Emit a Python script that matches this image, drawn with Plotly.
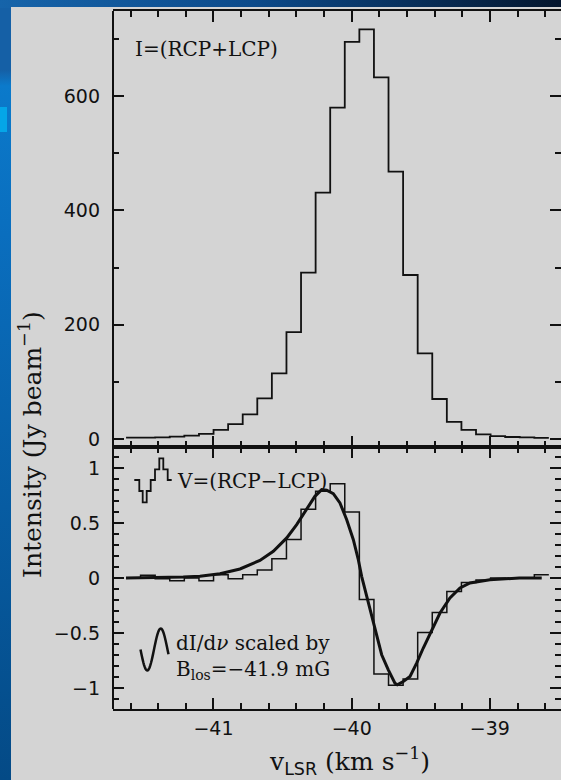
import base64
import math
import plotly.graph_objects as go

# ---------------- data ----------------
chan_v = [-41.580, -41.475, -41.369, -41.264, -41.158, -41.052, -40.947, -40.841,
          -40.736, -40.630, -40.525, -40.419, -40.314, -40.208, -40.103, -39.997,
          -39.892, -39.786, -39.681, -39.575, -39.470, -39.364, -39.259, -39.153,
          -39.048, -38.942, -38.837, -38.731, -38.626]
stokes_I = [2.3, 2.3, 3, 4, 6, 9, 16, 26, 43, 71, 115, 187, 291, 431, 580, 695,
            717, 633, 468, 287, 150, 70, 30, 16, 8, 5, 3.5, 3, 2]
stokes_V = [0, 0.024, -0.006, -0.024, 0, -0.024, 0.03, -0.006, 0.03, 0.073, 0.176,
            0.35, 0.625, 0.787, 0.857, 0.6, -0.195, -0.873, -0.975, -0.918, -0.495,
            -0.313, -0.122, -0.041, -0.018, 0, -0.003, -0.003, 0.03]
fit_v = [-41.633, -41.400, -41.219, -41.098, -40.953, -40.808, -40.664, -40.567,
         -40.470, -40.398, -40.326, -40.266, -40.217, -40.181, -40.133, -40.085,
         -40.036, -39.988, -39.952, -39.928, -39.891, -39.855, -39.819, -39.783,
         -39.735, -39.687, -39.670, -39.627, -39.578, -39.530, -39.482, -39.421,
         -39.361, -39.289, -39.216, -39.144, -39.072, -39.000, -38.787, -38.625]
fit_V = [0, 0.003, 0.009, 0.015, 0.039, 0.082, 0.16, 0.242, 0.364, 0.485, 0.627,
         0.742, 0.803, 0.797, 0.766, 0.682, 0.53, 0.348, 0.166, 0.015, -0.167,
         -0.349, -0.53, -0.697, -0.834, -0.955, -0.97, -0.94, -0.894, -0.773,
         -0.636, -0.47, -0.318, -0.182, -0.091, -0.045, -0.03, -0.015, 0, 0]

x_tickvals = [-41, -40, -39]
x_ticktext = ["\u221241", "\u221240", "\u221239"]
I_tickvals = [0, 200, 400, 600]
I_ticktext = ["0", "200", "400", "600"]
V_tickvals = [-1, -0.5, 0, 0.5, 1]
V_ticktext = ["\u22121", "\u22120.5", "0", "0.5", "1"]

# ---------------- geometry ----------------
W, H = 561, 780
ML, MR, MT, MB = 113, 0, 11, 71
PW, PH = W - ML - MR, H - MT - MB
SPLIT = (709 - 447) / PH
INK = "#111111"


def px(x):
    return (x - ML) / PW


def py(y):
    return (H - MB - y) / PH


def steps(xc, yv):
    w = xc[1] - xc[0]
    return [xc[0] - w / 2] + list(xc) + [xc[-1] + w / 2], [yv[0]] + list(yv) + [yv[-1]]


fig = go.Figure()
xs, ys = steps(chan_v, stokes_I)
fig.add_trace(go.Scatter(x=xs, y=ys, mode="lines", line=dict(shape="hvh", color=INK, width=1.8),
                         xaxis="x", yaxis="y", hoverinfo="skip"))
xs, ys = steps(chan_v, stokes_V)
fig.add_trace(go.Scatter(x=xs, y=ys, mode="lines", line=dict(shape="hvh", color=INK, width=1.5),
                         xaxis="x2", yaxis="y2", hoverinfo="skip"))
fig.add_trace(go.Scatter(x=fit_v, y=fit_V, mode="lines", line=dict(color=INK, width=3),
                         xaxis="x2", yaxis="y2", hoverinfo="skip"))

tickfont = dict(family="DejaVu Sans", size=19, color=INK)
xr = [-41.727, -38.4855]
xcommon = dict(range=xr, showgrid=False, zeroline=False, showline=True, mirror="ticks",
               linecolor=INK, linewidth=2, ticks="inside", ticklen=11, tickwidth=1.5,
               tickcolor=INK, tickvals=x_tickvals, ticktext=x_ticktext,
               minor=dict(tickmode="linear", tick0=-40, dtick=0.2, ticks="inside",
                          ticklen=6, tickwidth=1.5, tickcolor=INK),
               tickfont=tickfont)
ycommon = dict(showgrid=False, zeroline=False, showline=False, mirror="ticks",
               ticks="inside", ticklen=11, tickwidth=1.5, tickcolor=INK,
               tickfont=tickfont, ticklabelstandoff=12)

svg = f'''<svg xmlns="http://www.w3.org/2000/svg" width="{W}" height="{H}" viewBox="0 0 {W} {H}">
<defs>
<linearGradient id="t" x1="0" y1="0" x2="1" y2="0">
<stop offset="0" stop-color="#1664aa"/><stop offset="0.45" stop-color="#0c4a8a"/><stop offset="1" stop-color="#04162e"/>
</linearGradient>
<linearGradient id="l" x1="0" y1="0" x2="0" y2="1">
<stop offset="0" stop-color="#1560a6"/><stop offset="0.09" stop-color="#1560a6"/>
<stop offset="0.11" stop-color="#0b7acb"/><stop offset="0.3" stop-color="#0a6ebe"/>
<stop offset="1" stop-color="#044a86"/>
</linearGradient>
</defs>
<rect x="0" y="0" width="{W}" height="{H}" fill="url(#l)"/>
<rect x="0" y="0" width="{W}" height="8" fill="url(#t)"/>
<rect x="0" y="107" width="7" height="25" fill="#05a6e8"/>
<rect x="11" y="7" width="{W-11}" height="{H-7}" fill="#d4d4d4"/>
</svg>'''
src = "data:image/svg+xml;base64," + base64.b64encode(svg.encode()).decode()

# legend key glyphs (pixel outlines)
step_key = [(134.3, 480), (139.3, 480), (139.3, 491), (142.7, 491), (142.7, 502.3),
            (146.7, 502.3), (146.7, 491), (150.7, 491), (150.7, 480), (155, 480),
            (155, 469.3), (159.3, 469.3), (159.3, 458.3), (163.3, 458.3), (163.3, 469.3),
            (167.7, 469.3), (167.7, 480), (171.7, 480)]
step_path = "M " + " L ".join(f"{px(a):.5f},{py(b):.5f}" for a, b in step_key)
wave_pts = []
for i in range(41):
    xx = 140.5 + 28 * i / 40
    yy = 649.5 + 21 * math.sin(math.pi * (xx - 140.5) / 13.5)
    wave_pts.append((xx, yy))
wave_path = "M " + " L ".join(f"{px(a):.5f},{py(b):.5f}" for a, b in wave_pts)

serif = "DejaVu Serif"
ann = []


def text(t, x, y, size, xanchor="left", angle=0):
    ann.append(dict(text=t, x=px(x), y=py(y), xref="paper", yref="paper", showarrow=False,
                    xanchor=xanchor, yanchor="middle", textangle=angle, align="left",
                    font=dict(family=serif, size=size, color=INK)))


text("I=(RCP+LCP)", 133, 49, 20)
text("V=(RCP\u2212LCP)", 175, 481, 20)
text("dI/d<i>\u03bd</i> scaled by<br>B<sub>los</sub>=\u221241.9 mG", 174, 657, 20)
text("Intensity (Jy beam<sup>\u22121</sup>)", 30, 445, 25, xanchor="center", angle=-90)
text("v<sub><span style=\"font-family:'DejaVu Sans'\">LSR</span></sub> (km s<sup>\u22121</sup>)",
     349, 761, 25, xanchor="center")

fig.update_layout(
    width=W, height=H, margin=dict(l=ML, r=MR, t=MT, b=MB, pad=0),
    paper_bgcolor="#d4d4d4", plot_bgcolor="rgba(0,0,0,0)", showlegend=False,
    xaxis=dict(domain=[0, 1], anchor="y", showticklabels=False, **xcommon),
    xaxis2=dict(domain=[0, 1], anchor="y2", matches="x", showticklabels=True,
                ticklabelstandoff=1, **xcommon),
    yaxis=dict(domain=[SPLIT, 1], anchor="x", range=[-14, 749], tickvals=I_tickvals,
               ticktext=I_ticktext,
               minor=dict(tickmode="linear", tick0=0, dtick=100, ticks="inside",
                          ticklen=6, tickwidth=1.5, tickcolor=INK), **ycommon),
    yaxis2=dict(domain=[0, SPLIT], anchor="x2", range=[-1.19, 1.19], tickvals=V_tickvals,
                ticktext=V_ticktext,
                minor=dict(tickmode="linear", tick0=0, dtick=0.1, ticks="inside",
                           ticklen=6, tickwidth=1.5, tickcolor=INK), **ycommon),
    images=[dict(source=src, xref="paper", yref="paper", x=px(0), y=py(0),
                 sizex=W / PW, sizey=H / PH, xanchor="left", yanchor="top",
                 sizing="stretch", layer="below")],
    shapes=[dict(type="line", xref="paper", yref="paper", x0=0, x1=0, y0=0, y1=1,
                 line=dict(color=INK, width=2)),
            dict(type="path", xref="paper", yref="paper", path=step_path,
                 line=dict(color=INK, width=1.8)),
            dict(type="path", xref="paper", yref="paper", path=wave_path,
                 line=dict(color=INK, width=2.5))],
    annotations=ann,
)

fig.write_html("out.html")
